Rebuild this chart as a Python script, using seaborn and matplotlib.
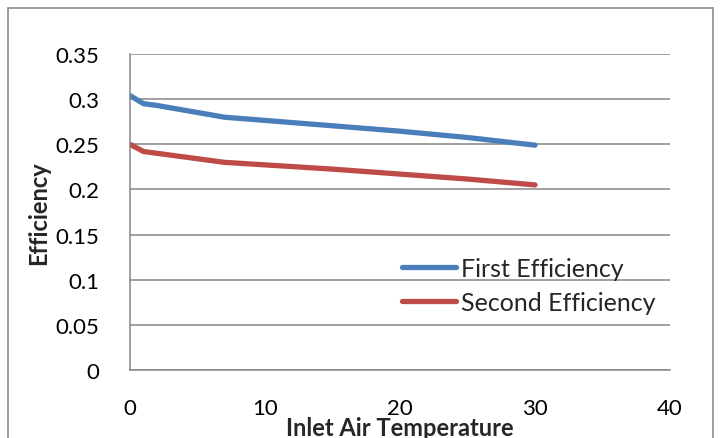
import matplotlib
matplotlib.use("Agg")
import matplotlib.pyplot as plt
import matplotlib.patches as mpatches
import seaborn as sns
import pandas as pd

temperature = [0, 1, 2, 7, 15, 20, 25, 30]
first_eff = [0.304, 0.295, 0.293, 0.280, 0.2705, 0.2645, 0.2575, 0.249]
second_eff = [0.250, 0.242, 0.240, 0.230, 0.2225, 0.217, 0.2115, 0.205]
series_names = ["First Efficiency", "Second Efficiency"]
y_ticks = [0, 0.05, 0.1, 0.15, 0.2, 0.25, 0.3, 0.35]
y_tick_labels = ["0", "0.05", "0.1", "0.15", "0.2", "0.25", "0.3", "0.35"]
x_ticks = [0, 10, 20, 30, 40]

df = pd.DataFrame({
    "Inlet Air Temperature": temperature * 2,
    "Efficiency": first_eff + second_eff,
    "Series": [series_names[0]] * len(temperature) + [series_names[1]] * len(temperature),
})

sns.set_theme(style="white")
plt.rcParams["font.family"] = ["Lato", "DejaVu Sans"]

fig = plt.figure(figsize=(7.2, 4.39), dpi=100)
ax = fig.add_axes([130 / 720, 1 - 371 / 439, 540 / 720, 316 / 439])

sns.lineplot(data=df, x="Inlet Air Temperature", y="Efficiency", hue="Series",
             palette=["#4A7EBB", "#BE4B48"], linewidth=3.8, ax=ax,
             solid_capstyle="round", legend=True)

ax.set_xlim(0, 40)
ax.set_ylim(0, 0.35)
ax.set_xticks(x_ticks)
ax.set_yticks(y_ticks)
ax.set_yticklabels(y_tick_labels)
ax.grid(axis="y", color="#868686", linewidth=1.1)
ax.set_axisbelow(True)
for s in ["top", "right"]:
    ax.spines[s].set_visible(False)
for s in ["left", "bottom"]:
    ax.spines[s].set_color("#868686")
    ax.spines[s].set_linewidth(1.1)
ax.tick_params(axis="both", length=0, labelsize=16, colors="black")
ax.tick_params(axis="x", pad=20)
ax.tick_params(axis="y", pad=22)

ax.set_xlabel("Inlet Air Temperature", fontsize=17, fontweight="bold", labelpad=-1)
ax.set_ylabel("Efficiency", fontsize=17, fontweight="bold", labelpad=4)

leg = ax.legend(loc="upper left", bbox_to_anchor=(0.504, 0.358), frameon=False,
                fontsize=18, handlelength=2.15, handletextpad=0.2, labelspacing=0.45,
                borderaxespad=0, borderpad=0)
for line in leg.get_lines():
    line.set_linewidth(3.8)

border = mpatches.Rectangle((8 / 720, -0.05), 705 / 720, 1 - 9 / 439 + 0.05,
                            transform=fig.transFigure, fill=False,
                            edgecolor="#8c8c8c", linewidth=1.2, clip_on=False)
fig.patches.append(border)

fig.savefig("out.png", dpi=100)
